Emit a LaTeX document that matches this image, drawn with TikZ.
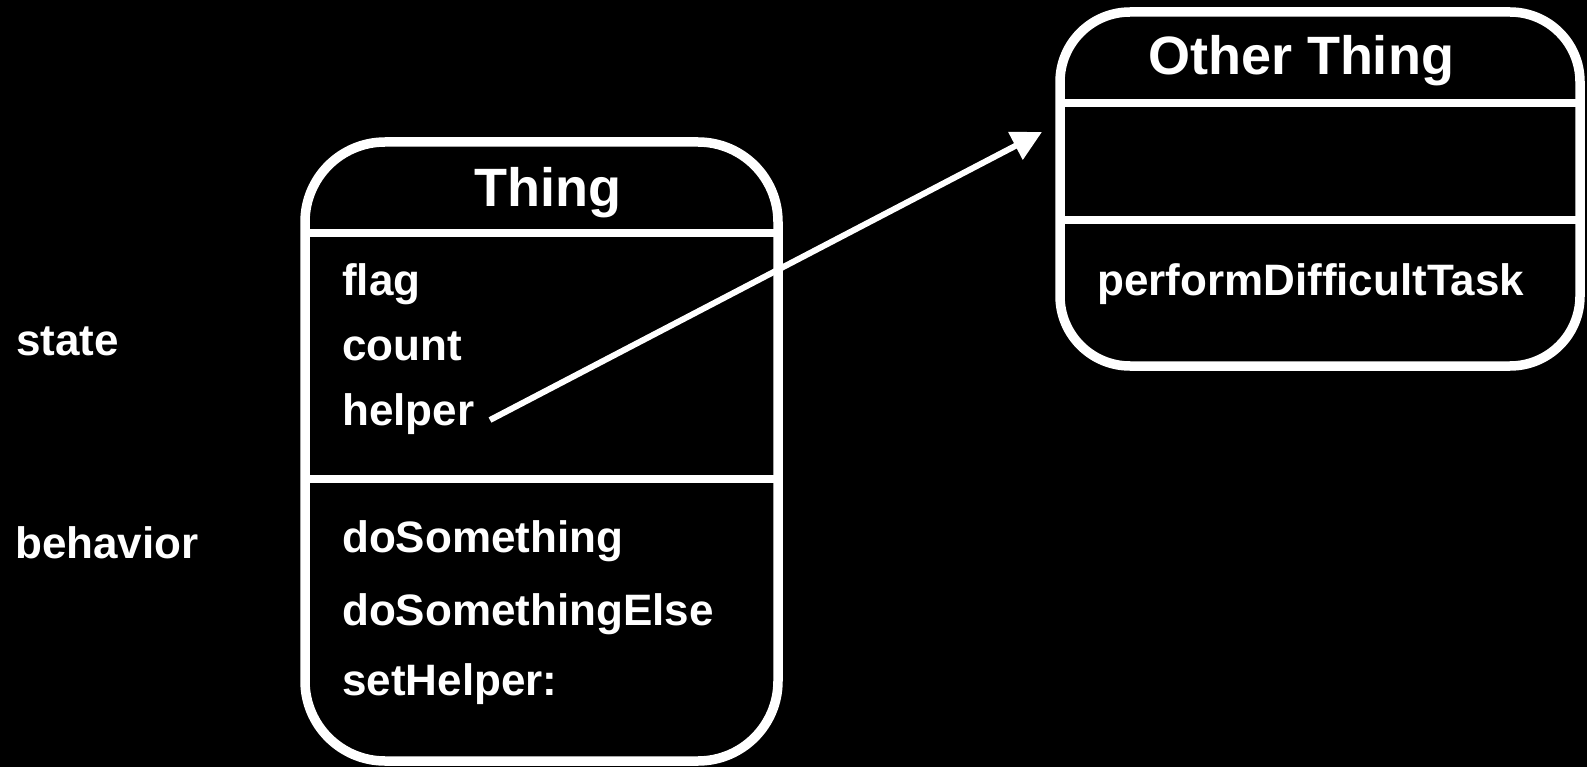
\documentclass[tikz,border=0pt]{standalone}
\usepackage{fontspec}
\setmainfont{Liberation Sans}
\usetikzlibrary{arrows.meta}
\begin{document}
\begin{tikzpicture}[x=1pt,y=-1pt,
  classbox/.style={draw=white, line width=9.5pt, fill=black, inner sep=0pt, outer sep=0pt},
  divider/.style={draw=white, line width=8pt},
  titletext/.style={text=white, font=\bfseries\fontsize{54}{54}\selectfont, inner sep=0pt, anchor=base},
  itemtext/.style={text=white, font=\bfseries\fontsize{44}{44}\selectfont, inner sep=0pt, anchor=base west},
  connector/.style={draw=white, line width=6pt, -{Triangle[length=30pt,width=30pt]}}
]
\useasboundingbox (0,0) rectangle (1587,767);
\fill[black] (0,0) rectangle (1587,767);

% Thing box
\node[classbox, rounded corners=80pt, minimum width=473pt, minimum height=619pt] (thing) at (541.5,451.5) {};
\draw[divider] (thing.west |- 0,233) -- (thing.east |- 0,233);
\draw[divider] (thing.west |- 0,479) -- (thing.east |- 0,479);
\node[titletext] (thingtitle) at (548,207) {Thing};
\node[itemtext] (flag) at (342,295) {flag};
\node[itemtext] (count) at (342,360) {count};
\node[itemtext] (helper) at (342,425) {helper};
\node[itemtext] (dosomething) at (342,552) {doSomething};
\node[itemtext] (dosomethingelse) at (342,625) {doSomethingElse};
\node[itemtext] (sethelper) at (342,695) {setHelper:};

% Other Thing box
\node[classbox, rounded corners=70pt, minimum width=520pt, minimum height=354pt] (other) at (1320,189) {};
\draw[divider] (other.west |- 0,103) -- (other.east |- 0,103);
\draw[divider] (other.west |- 0,220.5) -- (other.east |- 0,220.5);
\node[titletext] (othertitle) at (1301,75) {Other Thing};
\node[itemtext] (perform) at (1097,295) {performDifficultTask};

% side labels
\node[itemtext] (state) at (16,355) {state};
\node[itemtext] (behavior) at (15,558) {behavior};

% connector
\coordinate (hstart) at (490,420);
\coordinate (htip) at (1042,132);
\draw[connector] (hstart) -- (htip);
\end{tikzpicture}
\end{document}
